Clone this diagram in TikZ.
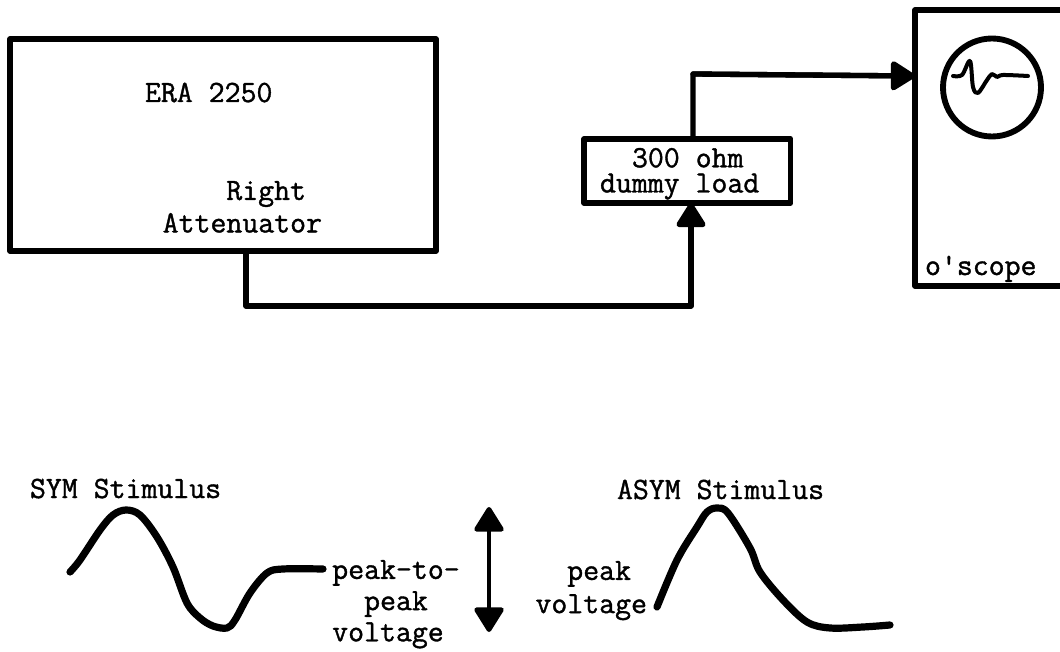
\documentclass[tikz,border=0pt]{standalone}
\usepackage{fontspec}
\setmonofont[FakeBold=1.2]{Latin Modern Mono}
\usetikzlibrary{arrows.meta}
\newcommand{\chw}{\hspace*{12pt}}
\tikzset{
  x=0.75pt,y=-0.75pt,
  box/.style={draw,rectangle,line width=4.2pt,outer sep=0pt,inner sep=0pt,line join=round},
  lbl/.style={inner sep=0pt,outer sep=0pt,anchor=base west,font=\fontsize{23.2}{23.4}\selectfont\ttfamily},
  wire/.style={line width=4pt,line cap=round,line join=round},
  tip/.style={-{Triangle[length=20pt,width=24pt,round]}},
  wave/.style={line width=5.4pt,line cap=round,line join=round,smooth,tension=0.55},
  thinwave/.style={line width=3pt,line cap=round,line join=round,smooth,tension=0.55},
}
\begin{document}
\begin{tikzpicture}
\useasboundingbox (0,0) rectangle (1060,652);
% boxes
\node[box,minimum width=319.5pt,minimum height=159pt,anchor=north west] (era) at (10,39) {};
\node[box,minimum width=155pt,minimum height=48pt,anchor=north west] (load) at (584,139) {};
\node[box,minimum width=150pt,minimum height=207pt,anchor=north west] (scope) at (915,10) {};
\node[draw,circle,line width=4.4pt,minimum size=73.5pt,inner sep=0pt,outer sep=0pt] (screen) at (992,87.5) {};
% text
\node[lbl] (t1) at (145,102) {ERA 2250};
\node[lbl,align=right,anchor=north east] (t2) at (322,181) {Right\chw\\[1pt]Attenuator};
\node[lbl,align=left,anchor=north west] (t3) at (600,148) {\chw\chw300 ohm\\[-4.5pt]dummy load};
\node[lbl] (t4) at (925,275) {o'scope};
\node[lbl] (t5) at (30,498) {SYM Stimulus};
\node[lbl] (t6) at (617,499) {ASYM Stimulus};
\node[lbl,align=center,anchor=north] (t7) at (396,560) {peak-to-\\peak\\voltage\chw};
\node[lbl,align=right,anchor=north east] (t8) at (647,561) {peak\chw\\[1.5pt]voltage};
% connectors
\coordinate (c1) at (246,306);
\coordinate (c2) at (691,306);
\coordinate (c3) at (693,74);
\coordinate (c4) at (914,76);
\draw[wire] (era.south -| c1) -- (c1) -- (c2);
\draw[wire,tip] (c2) -- (c2 |- load.south);
\draw[wire] (c3 |- load.north) -- (c3) -- (c4);
\draw[wire,tip] (c3) -- (c4 -| scope.west);
% double arrow
\coordinate (d1) at (489,507);
\coordinate (d2) at (489,632);
\draw[line width=3.4pt,{Triangle[length=20pt,width=24pt,round]}-{Triangle[length=20pt,width=24pt,round]}] (d1) -- (d2);
% waves
\draw[wave] plot coordinates {(70,572) (80,560) (100,530) (113,515) (126,510) (140,515) (157,537) (173,567) (187,603) (200,618) (213,626) (227,628) (235,620) (250,593) (267,573) (283,569) (323,569)};
\draw[wave] plot coordinates {(657,607) (677,560) (697,527) (707,512) (717,508) (728,513) (750,548) (760,572) (783,600) (807,622) (830,628) (863,627) (890,625)};
\draw[thinwave] plot coordinates {(953,76) (962,75) (970,61) (973,87) (978,93) (987,80) (992,74) (997,77) (1003,75) (1028,76)};
\end{tikzpicture}
\end{document}
